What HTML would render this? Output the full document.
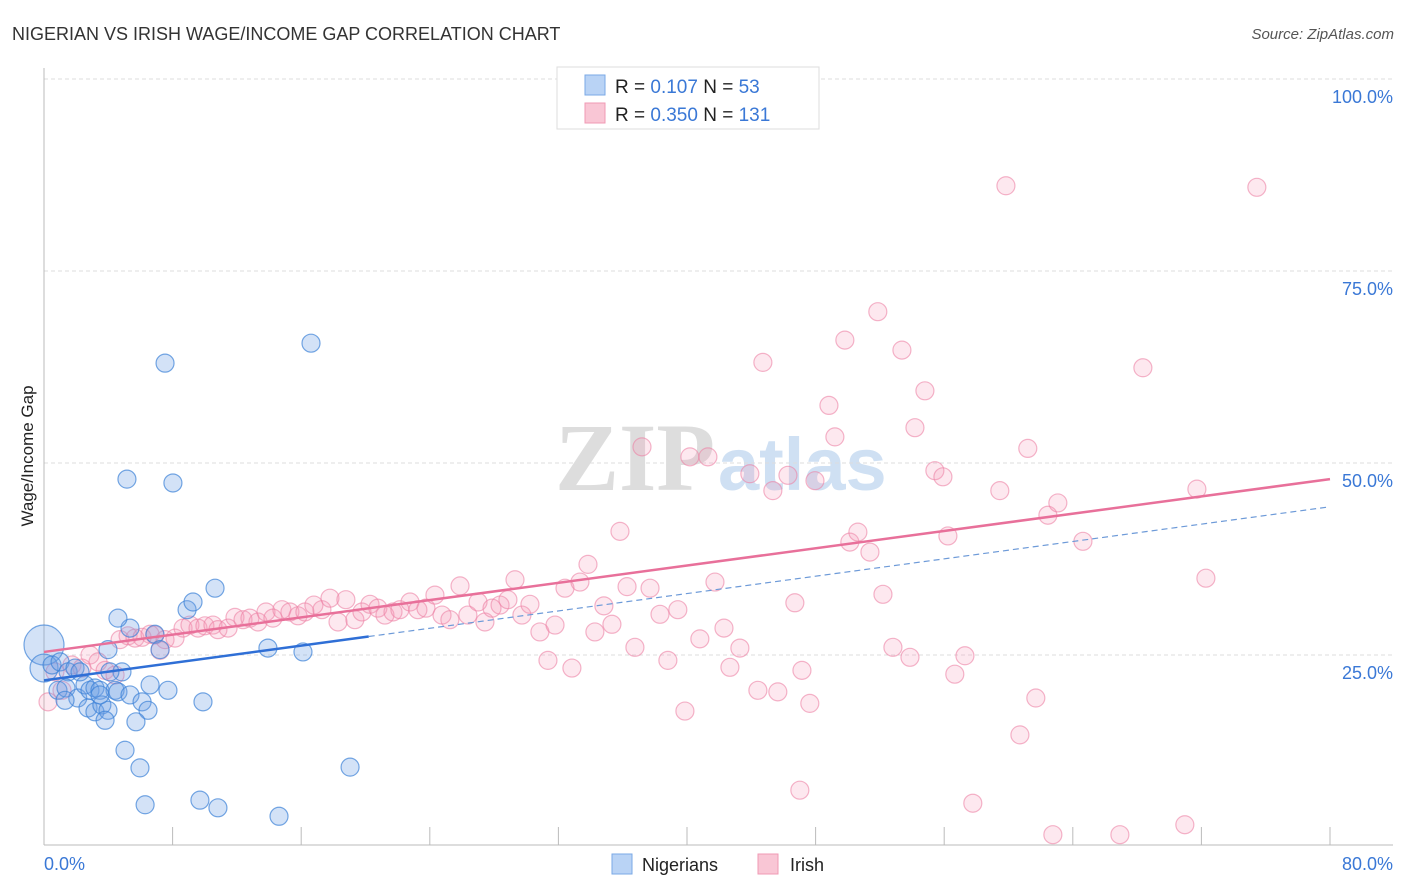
<!DOCTYPE html>
<html><head><meta charset="utf-8"><style>
body{margin:0;background:#fff;width:1406px;height:892px;overflow:hidden;font-family:"Liberation Sans",sans-serif}
</style></head><body>
<svg id="chart" width="1406" height="892" xmlns="http://www.w3.org/2000/svg" style="position:absolute;left:0;top:0">
<text x="12" y="40" font-size="18" fill="#333">NIGERIAN VS IRISH WAGE/INCOME GAP CORRELATION CHART</text>
<text x="1394" y="39" font-size="15" fill="#555" text-anchor="end" font-style="italic">Source: ZipAtlas.com</text>
<g>
<text x="555" y="490" font-size="96" fill="#ddd" font-family="Liberation Serif" font-weight="bold">ZIP</text>
<text x="718" y="490" font-size="74" fill="#cfe0f3" font-weight="bold">atlas</text>
</g>
<g id="grid"></g>
<g id="axes"></g>
<g id="pts"></g>
<g id="lines"></g>
<text transform="translate(33,456) rotate(-90)" font-size="17" fill="#222" text-anchor="middle">Wage/Income Gap</text>
<g>
<rect x="557" y="67" width="262" height="62" fill="#fff" stroke="#ddd"/>
<rect x="585" y="75" width="20" height="20" fill="#b9d3f5" stroke="#7aa8e6"/>
<rect x="585" y="103" width="20" height="20" fill="#f9c6d5" stroke="#f09ab4"/>
<text x="615" y="93" font-size="19" fill="#222">R = <tspan fill="#3a78d6"> 0.107</tspan>   N = <tspan fill="#3a78d6"> 53</tspan></text>
<text x="615" y="121" font-size="19" fill="#222">R = <tspan fill="#3a78d6">0.350</tspan>   N = <tspan fill="#3a78d6">131</tspan></text>
</g>
<g>
<rect x="612" y="854" width="20" height="20" fill="#b9d3f5" stroke="#7aa8e6"/>
<text x="642" y="871" font-size="18" fill="#222">Nigerians</text>
<rect x="758" y="854" width="20" height="20" fill="#f9c6d5" stroke="#f09ab4"/>
<text x="790" y="871" font-size="18" fill="#222">Irish</text>
</g>
</svg>
<script>
const yTicks=[25,50,75,100];
const yTickLabels=["25.0%","50.0%","75.0%","100.0%"];
const xTickVals=[8,16,24,32,40,48,56,64,72,80];
const blueX=[0,0,0.5,1.0,1.5,1.93,0.87,1.37,2.1,2.55,2.86,3.17,3.48,2.74,3.17,3.6,3.98,3.8,4.42,4.6,4.85,5.35,4.6,3.98,4.1,5.04,5.97,6.29,5.35,6.1,6.6,6.47,5.72,6.9,7.22,7.71,7.53,8.02,5.16,8.9,9.27,10.64,9.89,9.7,10.82,13.93,16.11,16.61,14.62,19.04,1.31,3.48,2.24];
const blueY=[26.3,23.3,23.7,24.1,22.8,23.3,20.4,20.7,19.4,21.1,20.4,20.7,20.4,18.1,17.6,18.5,17.8,16.5,20.4,20.2,22.8,28.5,29.8,25.7,22.8,12.6,10.3,5.5,19.8,18.9,21.1,17.8,16.3,27.7,25.7,20.4,63.0,47.4,47.9,30.9,31.9,33.7,18.9,6.1,5.1,25.9,25.4,65.6,4.0,10.4,19.1,19.8,22.8];
const pinkX=[0.25,0.68,1.12,1.74,2.36,2.86,3.36,3.8,4.42,4.73,5.23,5.66,6.1,6.6,6.9,7.22,7.53,8.15,8.65,9.08,9.58,10.01,10.51,10.82,11.45,11.88,12.38,12.81,13.31,13.81,14.24,14.8,15.3,15.8,16.23,16.79,17.29,17.79,18.29,18.78,19.34,19.78,20.28,20.77,21.21,21.71,22.14,22.77,23.26,23.76,24.32,24.76,25.25,25.88,26.37,27.0,27.43,27.87,28.37,28.86,29.3,29.73,30.23,30.85,31.35,31.79,32.41,32.84,33.34,33.84,34.27,34.83,35.33,35.83,36.27,36.76,37.2,37.7,38.32,38.81,39.43,39.87,40.18,40.8,41.3,41.74,42.3,42.67,43.29,43.91,44.41,44.72,45.34,45.65,46.28,46.71,47.15,47.64,47.02,47.96,48.83,49.2,49.82,50.13,50.63,51.38,51.87,52.19,52.81,53.37,53.87,54.18,54.8,55.42,55.92,56.23,56.66,57.29,57.78,59.46,59.84,60.71,61.2,61.7,62.45,62.76,63.07,64.63,66.93,68.36,70.97,71.72,72.28,75.45];
const pinkY=[18.9,22.8,20.4,23.7,23.3,25.0,24.1,23.0,22.4,27.0,27.5,27.2,27.3,27.7,27.6,25.6,27.0,27.2,28.5,28.9,28.5,28.8,28.9,28.3,28.5,29.9,29.6,29.8,29.3,30.6,29.8,30.9,30.6,30.1,30.6,31.5,30.9,32.4,29.3,32.2,29.6,30.6,31.6,31.1,30.2,30.6,30.9,31.9,30.9,31.1,32.8,30.2,29.6,34.0,30.2,31.9,29.3,31.1,31.5,32.2,34.8,30.2,31.6,28.0,24.3,28.9,33.7,23.3,34.5,36.8,28.0,31.4,29.0,41.1,33.9,26.0,52.1,33.7,30.3,24.3,30.9,17.7,50.8,27.1,50.8,34.5,28.5,23.4,25.9,48.6,20.4,63.1,46.4,20.2,48.4,31.8,23.0,18.7,7.4,47.7,57.5,53.4,66.0,39.7,41.0,38.4,69.7,32.9,26.0,64.7,24.7,54.6,59.4,49.0,48.2,40.5,22.5,24.9,5.7,46.4,86.1,14.6,51.9,19.4,43.2,1.6,44.8,39.8,1.6,62.4,2.9,46.6,35.0,85.9];
const blueTrend=[21.7,44.3];
const pinkTrend=[25.4,47.9];
const NS="http://www.w3.org/2000/svg";
const X=v=>44+v*1286/80, Y=v=>847-v*7.68;
function mk(tag,attrs,parent){const e=document.createElementNS(NS,tag);for(const k in attrs)e.setAttribute(k,attrs[k]);parent.appendChild(e);return e;}
const grid=document.getElementById('grid'),axes=document.getElementById('axes'),pts=document.getElementById('pts'),lines=document.getElementById('lines');
yTicks.forEach((t,i)=>{
 const l=mk('line',{x1:44,x2:1393,y1:Y(t),y2:Y(t),stroke:'#ddd','stroke-dasharray':'4,3'},grid);
 
 
 const tx=mk('text',{x:1393,y:Y(t)+24,'font-size':18,fill:'#3a78d6','text-anchor':'end'},axes);
 tx.textContent=yTickLabels[i];
 
 
});
mk('line',{x1:44,x2:44,y1:68,y2:845,stroke:'#bbb'},axes);
mk('line',{x1:44,x2:1393,y1:845,y2:845,stroke:'#bbb'},axes);
xTickVals.forEach(v=>{
 const t=mk('line',{x1:X(v),x2:X(v),y1:827,y2:845,stroke:'#bbb'},axes);
 
 
});
const x0=mk('text',{x:44,y:870,'font-size':18,fill:'#3a78d6'},axes);x0.textContent='0.0%';


const x1=mk('text',{x:1393,y:870,'font-size':18,fill:'#3a78d6','text-anchor':'end'},axes);x1.textContent='80.0%';


pinkX.forEach((v,i)=>{
 const c=mk('circle',{cx:X(v),cy:Y(pinkY[i]),r:9,fill:'rgba(244,150,180,0.22)',stroke:'rgba(236,130,165,0.6)','stroke-width':1.2},pts);
 
 
});
blueX.forEach((v,i)=>{
 const r=i==0?20:(i==1?14:9);
 const c=mk('circle',{cx:X(v),cy:Y(blueY[i]),r:r,fill:'rgba(110,160,230,0.3)',stroke:'rgba(60,130,215,0.7)','stroke-width':1.2},pts);
 
 
});
const bAt=v=>blueTrend[0]+(blueTrend[1]-blueTrend[0])*v/80;
const pAt=v=>pinkTrend[0]+(pinkTrend[1]-pinkTrend[0])*v/80;
let l1=mk('line',{x1:X(0),y1:Y(pAt(0)),x2:X(80),y2:Y(pAt(80)),stroke:'#e8709a','stroke-width':2.5},lines);


let l2=mk('line',{x1:X(0),y1:Y(bAt(0)),x2:X(20.2),y2:Y(bAt(20.2)),stroke:'#2f6fd6','stroke-width':2.5},lines);


let l3=mk('line',{x1:X(20.2),y1:Y(bAt(20.2)),x2:X(80),y2:Y(bAt(80)),stroke:'#6d9ad8','stroke-width':1.2,'stroke-dasharray':'6,4'},lines);


</script>
</body></html>
